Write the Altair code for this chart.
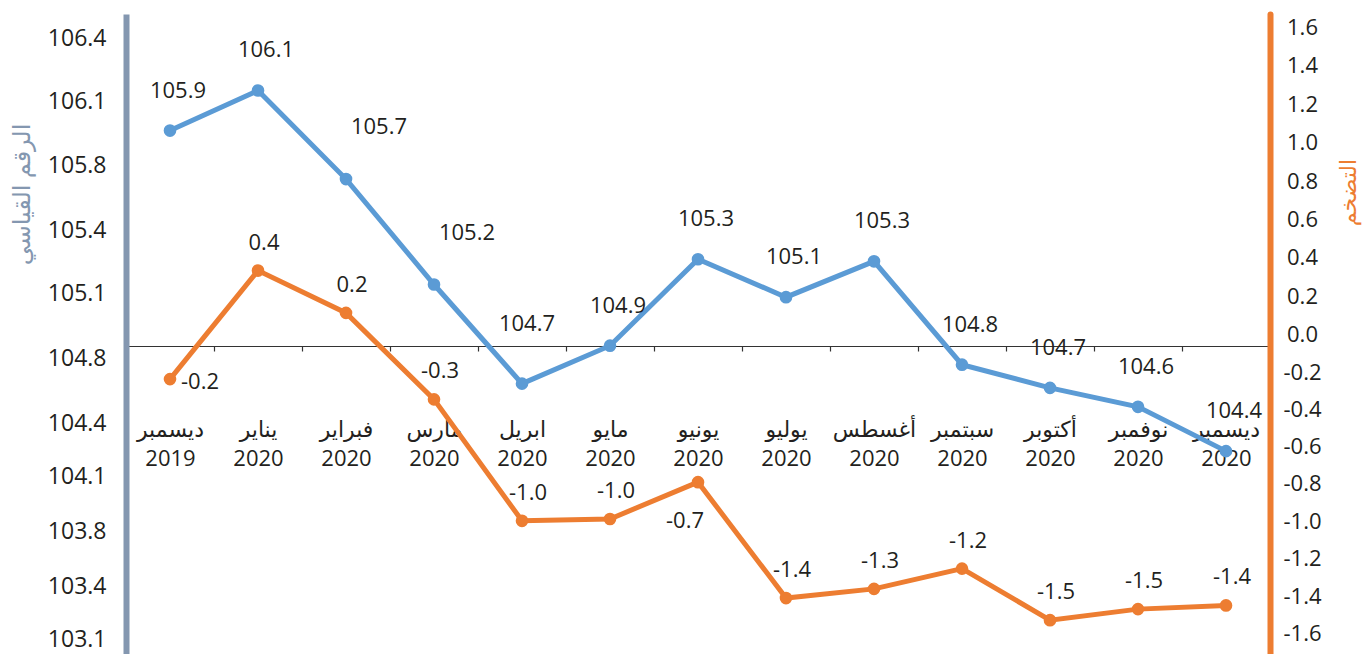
import altair as alt
import pandas as pd

# ---------------- data ----------------
months = ["ديسمبر 2019", "يناير 2020", "فبراير 2020", "مارس 2020", "ابريل 2020",
          "مايو 2020", "يونيو 2020", "يوليو 2020", "أغسطس 2020", "سبتمبر 2020",
          "أكتوبر 2020", "نوفمبر 2020", "ديسمبر 2020"]
index_values = [105.91, 106.10, 105.68, 105.18, 104.71, 104.89, 105.30,
                105.12, 105.29, 104.80, 104.69, 104.60, 104.39]
index_labels = ["105.9", "106.1", "105.7", "105.2", "104.7", "104.9", "105.3",
                "105.1", "105.3", "104.8", "104.7", "104.6", "104.4"]
inflation_values = [-0.18, 0.41, 0.18, -0.29, -0.95, -0.94, -0.74,
                    -1.37, -1.32, -1.21, -1.49, -1.43, -1.41]
inflation_labels = ["-0.2", "0.4", "0.2", "-0.3", "-1.0", "-1.0", "-0.7",
                    "-1.4", "-1.3", "-1.2", "-1.5", "-1.5", "-1.4"]
left_tick_labels = ["106.4", "106.1", "105.8", "105.4", "105.1", "104.8",
                    "104.4", "104.1", "103.8", "103.4", "103.1"]
right_tick_labels = ["1.6", "1.4", "1.2", "1.0", "0.8", "0.6", "0.4", "0.2", "0.0",
                     "-0.2", "-0.4", "-0.6", "-0.8", "-1.0", "-1.2", "-1.4", "-1.6"]

# ---------------- layout ----------------
W, H = 1144, 640
PAD_L, PAD_T, PAD_R = 126, 14, 98
AXIS_Y = 346  # page y of the horizontal axis line

# label placement groups (layout, not data)
blue_side = ["above", "above", "right", "right", "high", "above", "above",
             "above", "above", "above", "above", "above", "above"]
orange_side = ["right", "above", "above", "above", "above", "above", "below",
               "above", "above", "above", "above", "above", "above"]
blue_offsets = {"above": (8, -40), "right": (33, -52), "high": (5, -60)}
orange_offsets = {"above": (6, -28), "right": (30, 3), "below": (-13, 39)}

# page-y -> scale value mappings
def blue_at(y):
    return 105.1308 + (294.9 - y) / 210.9

def orange_at(y):
    return (AXIS_Y - y) / 184.0

blue_domain = [round(blue_at(PAD_T + H), 4), round(blue_at(PAD_T), 4)]
orange_domain = [round(orange_at(PAD_T + H), 4), round(orange_at(PAD_T), 4)]

left_tick_px = [39, 102, 166, 230, 294, 359, 423, 477, 531, 586, 640]
right_tick_px = [28, 66, 105, 143, 181, 220, 258, 296, 335, 373, 410, 447, 484,
                 521, 559, 596, 633]
left_vals = [round(blue_at(y), 4) for y in left_tick_px]
right_vals = [round(orange_at(y), 4) for y in right_tick_px]

def label_expr(vals, labels):
    lab = "[" + ",".join("'" + s + "'" for s in labels) + "]"
    vv = "[" + ",".join(repr(v) for v in vals) + "]"
    return f"{lab}[indexof({vv}, datum.value)]"

df = pd.DataFrame({
    "month": months,
    "index": index_values,
    "index_label": index_labels,
    "infl": inflation_values,
    "infl_label": inflation_labels,
    "bside": blue_side,
    "oside": orange_side,
})

FONT = "Open Sans, DejaVu Sans"
TXT = "#231f20"
BLUE = "#5b9bd5"
ORANGE = "#ed7d31"
GREYBLUE = "#8497b0"

x_enc = alt.X(
    "month:N", sort=months, bandPosition=0.5,
    scale=alt.Scale(type="band", paddingInner=0, paddingOuter=0),
    axis=alt.Axis(
        orient="bottom", offset=-(PAD_T + H - AXIS_Y), title=None,
        domainColor="#333333", domainWidth=1.2, tickColor="#333333",
        tickSize=5, tickWidth=1.2, tickBand="extent", labelAngle=0,
        labelFont=FONT, labelFontSize=22, labelColor=TXT, labelPadding=68,
        labelBaseline="top", labelLineHeight=29,
        labelExpr="split(datum.label, ' ')", labelOverlap=False,
    ),
)

y_blue = alt.Y(
    "index:Q", scale=alt.Scale(domain=blue_domain, nice=False, zero=False),
    axis=alt.Axis(
        orient="left", values=left_vals, labelExpr=label_expr(left_vals, left_tick_labels),
        domainColor=GREYBLUE, domainWidth=6, ticks=False, grid=False,
        labelFont=FONT, labelFontSize=23, labelColor=TXT, labelPadding=20,
        labelOverlap=False, labelBound=False,
        title="الرقم القياسي", titleColor=GREYBLUE, titleFont=FONT,
        titleFontSize=24, titleFontWeight="normal", titleAngle=270,
        titleX=-104, titleY=180, titleAlign="center", titleBaseline="middle",
    ),
)

y_orange = alt.Y(
    "infl:Q", scale=alt.Scale(domain=orange_domain, nice=False, zero=False),
    axis=alt.Axis(
        orient="right", values=right_vals, labelExpr=label_expr(right_vals, right_tick_labels),
        domainColor=ORANGE, domainWidth=6, domainCap="round", ticks=False, grid=False,
        labelFont=FONT, labelFontSize=22, labelColor=TXT, labelPadding=32,
        labelAlign="center", labelOverlap=False, labelBound=False,
        title="التضخم", titleColor=ORANGE, titleFont=FONT,
        titleFontSize=22, titleFontWeight="normal", titleAngle=270,
        titleX=78, titleY=178, titleAlign="center", titleBaseline="middle",
    ),
)

base = alt.Chart(df)

blue_layers = [
    base.mark_line(color=BLUE, strokeWidth=5).encode(x=x_enc, y=y_blue),
    base.mark_circle(color=BLUE, size=160, opacity=1).encode(x=x_enc, y=y_blue),
]
for side, (dx, dy) in blue_offsets.items():
    blue_layers.append(
        base.transform_filter(alt.datum.bside == side)
        .mark_text(font=FONT, fontSize=22, color=TXT, dx=dx, dy=dy)
        .encode(x=x_enc, y=y_blue, text="index_label:N")
    )

orange_layers = [
    base.mark_line(color=ORANGE, strokeWidth=5).encode(x=x_enc, y=y_orange),
    base.mark_circle(color=ORANGE, size=160, opacity=1).encode(x=x_enc, y=y_orange),
]
for side, (dx, dy) in orange_offsets.items():
    orange_layers.append(
        base.transform_filter(alt.datum.oside == side)
        .mark_text(font=FONT, fontSize=22, color=TXT, dx=dx, dy=dy)
        .encode(x=x_enc, y=y_orange, text="infl_label:N")
    )

chart = (
    alt.layer(alt.layer(*blue_layers), alt.layer(*orange_layers))
    .resolve_scale(y="independent")
    .properties(
        width=W, height=H,
        padding={"left": PAD_L, "top": PAD_T, "right": PAD_R, "bottom": 0},
        autosize=alt.AutoSizeParams(type="none"),
        background="white",
    )
    .configure_view(strokeWidth=0)
)

chart.save("out.html", embed_options={"renderer": "svg", "actions": False})
